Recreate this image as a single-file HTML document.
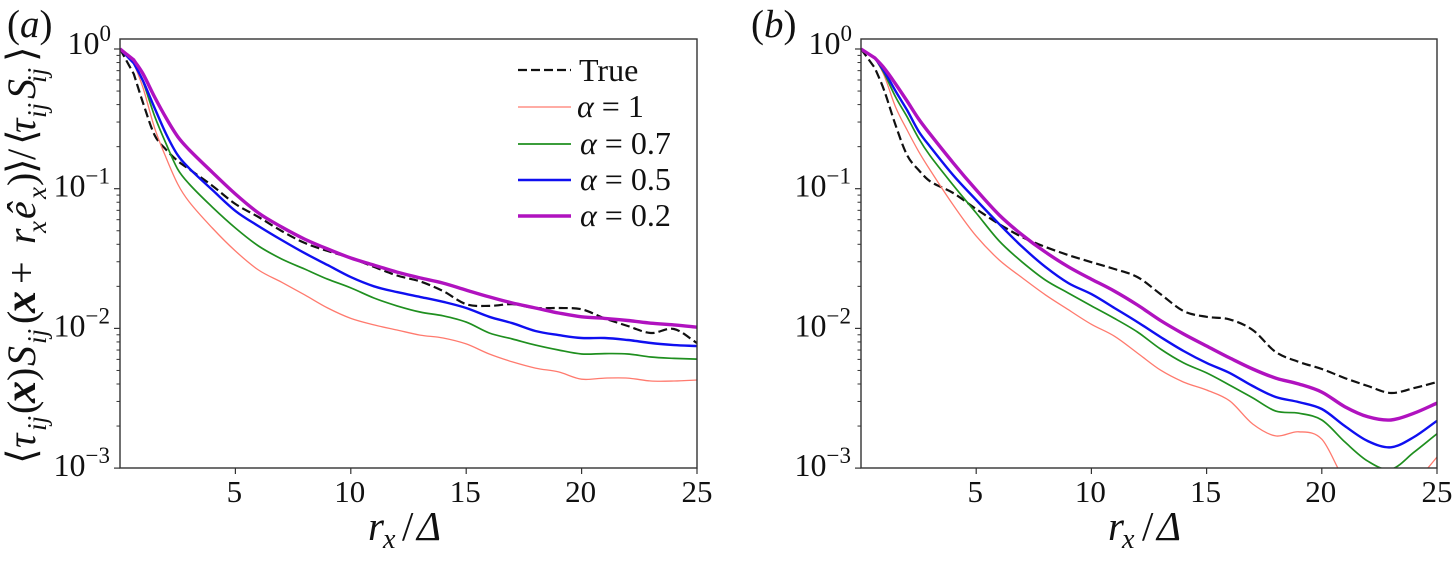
<!DOCTYPE html>
<html lang="en">
<head>
<meta charset="utf-8">
<title>Correlation decay with separation</title>
<style>
html,body{margin:0;padding:0;background:#fff;width:1453px;height:561px;overflow:hidden}
svg{display:block}
text{font-family:"Liberation Serif","DejaVu Serif",serif;fill:#111}
.it{font-style:italic}
</style>
</head>
<body>
<svg id="chart" xmlns="http://www.w3.org/2000/svg" width="1453" height="561" viewBox="0 0 1453 561">
  <rect x="0" y="0" width="1453" height="561" fill="#fff"/>
  <defs>
    <clipPath id="clip-a"><rect x="120" y="39" width="577" height="429"/></clipPath>
    <clipPath id="clip-b"><rect x="861" y="39" width="576" height="429"/></clipPath>
  </defs>
  <g id="panel-a"></g>
  <g id="panel-b"></g>

  <text x="7" y="37" font-size="39">(<tspan class="it">a</tspan>)</text>
  <text x="751" y="37" font-size="39">(<tspan class="it">b</tspan>)</text>

  <text transform="translate(35,462) rotate(-90)" font-size="40"><tspan x="-2" y="0">⟨</tspan><tspan class="it" x="14" y="0">τ</tspan><tspan class="it" font-size="27" x="31" y="11">ij</tspan><tspan x="48" y="0">(</tspan><tspan class="it" font-weight="bold" font-size="44" x="59" y="0">x</tspan><tspan x="81" y="0">)</tspan><tspan class="it" x="96" y="0">S</tspan><tspan class="it" font-size="27" x="118" y="11">ij</tspan><tspan x="138" y="0">(</tspan><tspan class="it" font-weight="bold" font-size="44" x="149" y="0">x</tspan><tspan x="178" y="0">+</tspan><tspan class="it" x="218" y="0">r</tspan><tspan class="it" font-size="27" x="229" y="11">x</tspan><tspan class="it" x="243" y="0">ê</tspan><tspan class="it" font-size="27" x="263" y="11">x</tspan><tspan x="276" y="0">)</tspan><tspan x="288" y="0">⟩</tspan><tspan x="302" y="0">/</tspan><tspan x="317" y="0">⟨</tspan><tspan class="it" x="329" y="0">τ</tspan><tspan class="it" font-size="27" x="344" y="11">ij</tspan><tspan class="it" x="363" y="0">S</tspan><tspan class="it" font-size="27" x="379" y="11">ij</tspan><tspan x="400" y="0">⟩</tspan></text>

  <text font-size="41"><tspan class="it" x="368" y="540">r</tspan><tspan class="it" font-size="28" x="383" y="548">x</tspan><tspan x="402" y="540">/</tspan><tspan class="it" x="417" y="540">Δ</tspan></text>
  <text font-size="41"><tspan class="it" x="1108" y="540">r</tspan><tspan class="it" font-size="28" x="1122" y="548">x</tspan><tspan x="1142" y="540">/</tspan><tspan class="it" x="1157" y="540">Δ</tspan></text>

  <g>
    <line x1="518" y1="70" x2="571" y2="70" stroke="#111" stroke-width="2.2" stroke-dasharray="9 4"/>
    <text x="579" y="81" font-size="32">True</text>
    <line x1="518" y1="107" x2="571" y2="107" stroke="#ff7a6e" stroke-width="1.3"/>
    <text x="577" y="117" font-size="32"><tspan class="it">α</tspan> = 1</text>
    <line x1="518" y1="144" x2="571" y2="144" stroke="#1f8f1f" stroke-width="1.7"/>
    <text x="580" y="154" font-size="32"><tspan class="it">α</tspan> = 0.7</text>
    <line x1="518" y1="180" x2="571" y2="180" stroke="#0f0ff0" stroke-width="2.4"/>
    <text x="580" y="190" font-size="32"><tspan class="it">α</tspan> = 0.5</text>
    <line x1="518" y1="216" x2="571" y2="216" stroke="#b012bf" stroke-width="3.4"/>
    <text x="580" y="226" font-size="32"><tspan class="it">α</tspan> = 0.2</text>
  </g>
</svg>
<script>
var rxGrid = [0,0.6,1,1.5,2,2.5,3,4,5,6,7,8,9,10,11,12,13,14,15,16,17,18,19,20,21,22,23,24,25];
var xTickValues = [5,10,15,20,25];
var xTickLabels = ['5','10','15','20','25'];
var yTickValues = [1,0.1,0.01,0.001];
var yTickExponents = ['0','−1','−2','−3'];
var yMinorMantissas = [2,3,4,5,6,7,8,9];

var trueA = [1,0.662,0.41,0.242,0.19,0.158,0.138,0.105,0.0777,0.0627,0.0498,0.0409,0.0358,0.0319,0.0276,0.0239,0.0217,0.0185,0.0149,0.0145,0.0149,0.014,0.014,0.0137,0.0118,0.0104,0.00927,0.0099,0.00786];
var alpha1A = [1,0.793,0.526,0.272,0.166,0.108,0.0804,0.0523,0.0358,0.0262,0.0214,0.0174,0.014,0.0118,0.0106,0.00974,0.00896,0.00854,0.00774,0.00656,0.00576,0.0052,0.00488,0.00433,0.00441,0.00441,0.0042,0.0042,0.00427];
var alpha07A = [1,0.81,0.58,0.331,0.209,0.138,0.108,0.0739,0.0523,0.0389,0.0314,0.0266,0.0225,0.0195,0.0165,0.0145,0.0131,0.0123,0.0111,0.00927,0.0084,0.0076,0.007,0.00656,0.0066,0.00656,0.00624,0.0061,0.00603];
var alpha05A = [1,0.79,0.59,0.378,0.246,0.174,0.14,0.098,0.0693,0.054,0.0429,0.0346,0.0284,0.0233,0.02,0.0182,0.0168,0.0155,0.014,0.0121,0.0109,0.00958,0.00896,0.00854,0.00854,0.00826,0.00786,0.0076,0.00748];
var alpha02A = [1,0.834,0.662,0.453,0.32,0.236,0.19,0.131,0.0916,0.067,0.0532,0.0436,0.037,0.0319,0.0284,0.0253,0.023,0.0211,0.0188,0.0168,0.0152,0.014,0.0129,0.0121,0.0118,0.0114,0.0109,0.0106,0.0102];

var trueB = [1,0.732,0.509,0.285,0.174,0.136,0.113,0.0932,0.0715,0.0558,0.045,0.0383,0.0335,0.0298,0.0266,0.0233,0.0176,0.0133,0.0121,0.0116,0.00974,0.00678,0.00576,0.00512,0.00441,0.00387,0.00345,0.00374,0.00413];
var alpha1B = [1,0.863,0.65,0.384,0.263,0.185,0.136,0.0764,0.0458,0.0309,0.023,0.0174,0.0136,0.0107,0.0088,0.00666,0.00503,0.00413,0.00362,0.00303,0.00207,0.0017,0.00182,0.00161,0.00082,0.00059,0.0005,0.00076,0.0012];
var alpha07B = [1,0.863,0.673,0.453,0.327,0.23,0.172,0.106,0.067,0.0422,0.0298,0.0222,0.0179,0.0145,0.0118,0.00942,0.00712,0.00566,0.0048,0.00393,0.00318,0.00256,0.00247,0.00221,0.00154,0.00112,0.00098,0.0013,0.00176];
var alpha05B = [1,0.863,0.696,0.5,0.365,0.258,0.2,0.125,0.083,0.0558,0.0383,0.0276,0.0211,0.0176,0.014,0.0111,0.00868,0.00689,0.00566,0.0048,0.00387,0.00323,0.00297,0.00265,0.002,0.00156,0.00141,0.00167,0.00218];
var alpha02B = [1,0.863,0.732,0.562,0.424,0.316,0.246,0.153,0.098,0.0648,0.0466,0.0352,0.0276,0.0225,0.0185,0.0147,0.0114,0.00912,0.00748,0.00615,0.00512,0.00441,0.004,0.0035,0.00275,0.00233,0.00221,0.00247,0.00292];

var NS = 'http://www.w3.org/2000/svg';
function make(tag, attrs, parent) {
  var el = document.createElementNS(NS, tag);
  for (var k in attrs) { el.setAttribute(k, attrs[k]); }
  parent.appendChild(el);
  return el;
}
var AXIS_COLOR = '#333';

// Cubic Hermite smoothing through projected points; first segment stays straight
function smoothPath(pts) {
  var n = pts.length;
  function tangent(i) {
    if (i === 1) { return (pts[2][1] - pts[1][1]) / (pts[2][0] - pts[1][0]); }
    if (i === n - 1) { return (pts[i][1] - pts[i - 1][1]) / (pts[i][0] - pts[i - 1][0]); }
    return (pts[i + 1][1] - pts[i - 1][1]) / (pts[i + 1][0] - pts[i - 1][0]);
  }
  var d = 'M' + pts[0][0].toFixed(1) + ' ' + pts[0][1].toFixed(1) + ' L' + pts[1][0].toFixed(1) + ' ' + pts[1][1].toFixed(1);
  for (var i = 1; i < n - 1; i++) {
    var h = pts[i + 1][0] - pts[i][0];
    var c1x = pts[i][0] + h / 3, c1y = pts[i][1] + tangent(i) * h / 3;
    var c2x = pts[i + 1][0] - h / 3, c2y = pts[i + 1][1] - tangent(i + 1) * h / 3;
    d += ' C' + c1x.toFixed(1) + ' ' + c1y.toFixed(1) + ' ' + c2x.toFixed(1) + ' ' + c2y.toFixed(1) + ' ' + pts[i + 1][0].toFixed(1) + ' ' + pts[i + 1][1].toFixed(1);
  }
  return d;
}

function drawPanel(groupId, clipId, left, right, seriesList) {
  var group = document.getElementById(groupId);
  var top = 39, bottom = 468, decadePx = 139.7, unityPx = 49;
  function xScale(v) { return left + (right - left) * v / 25; }
  function yScale(v) { return unityPx - Math.log10(v) * decadePx; }

  seriesList.forEach(function (s) {
    var pts = rxGrid.map(function (x, i) { return [xScale(x), yScale(s.values[i])]; });
    var path = make('path', {
      d: smoothPath(pts), fill: 'none', stroke: s.color, 'stroke-width': s.width,
      'stroke-linejoin': 'round', 'clip-path': 'url(#' + clipId + ')'
    }, group);
    if (s.dash) { path.setAttribute('stroke-dasharray', s.dash); }
    
    
  });

  var frame = make('rect', {
    x: left, y: top, width: right - left, height: bottom - top,
    fill: 'none', stroke: AXIS_COLOR, 'stroke-width': 1.4
  }, group);
  
  

  xTickValues.forEach(function (v, i) {
    var px = xScale(v);
    var tick = make('line', { x1: px, y1: bottom, x2: px, y2: bottom + 6, stroke: AXIS_COLOR, 'stroke-width': 1.2 }, group);
    
    
    var label = make('text', { x: px - (i === 4 ? 0 : 1), y: bottom + 34, 'font-size': 31, 'text-anchor': 'middle' }, group);
    label.textContent = xTickLabels[i];
    
    
  });

  yTickValues.forEach(function (v, i) {
    var py = yScale(v);
    var tick = make('line', { x1: left - 6, y1: py, x2: left, y2: py, stroke: AXIS_COLOR, 'stroke-width': 1.2 }, group);
    
    
    var label = make('text', { x: left - (i === 0 ? 9 : 10), y: py + (i === 0 ? 5 : 8), 'font-size': 32, 'text-anchor': 'end' }, group);
    
    
    var base = make('tspan', {}, label);
    base.textContent = '10';
    var sup = make('tspan', { dy: -13, 'font-size': 23 }, label);
    sup.textContent = yTickExponents[i];
    if (i < yTickValues.length - 1) {
      yMinorMantissas.forEach(function (m) {
        var my = yScale(v * m / 10);
        var minor = make('line', { x1: left - 3.5, y1: my, x2: left, y2: my, stroke: AXIS_COLOR, 'stroke-width': 1 }, group);
        
        
      });
    }
  });
}

drawPanel('panel-a', 'clip-a', 120, 697, [
  { name: 'true', values: trueA, color: '#111', width: 2.2, dash: '9 4' },
  { name: 'alpha-1', values: alpha1A, color: '#ff7a6e', width: 1.3 },
  { name: 'alpha-0-7', values: alpha07A, color: '#1f8f1f', width: 1.7 },
  { name: 'alpha-0-5', values: alpha05A, color: '#0f0ff0', width: 2.4 },
  { name: 'alpha-0-2', values: alpha02A, color: '#b012bf', width: 3.4 }
]);
drawPanel('panel-b', 'clip-b', 861, 1437, [
  { name: 'true', values: trueB, color: '#111', width: 2.2, dash: '9 4' },
  { name: 'alpha-1', values: alpha1B, color: '#ff7a6e', width: 1.3 },
  { name: 'alpha-0-7', values: alpha07B, color: '#1f8f1f', width: 1.7 },
  { name: 'alpha-0-5', values: alpha05B, color: '#0f0ff0', width: 2.4 },
  { name: 'alpha-0-2', values: alpha02B, color: '#b012bf', width: 3.4 }
]);
</script>
</body>
</html>
